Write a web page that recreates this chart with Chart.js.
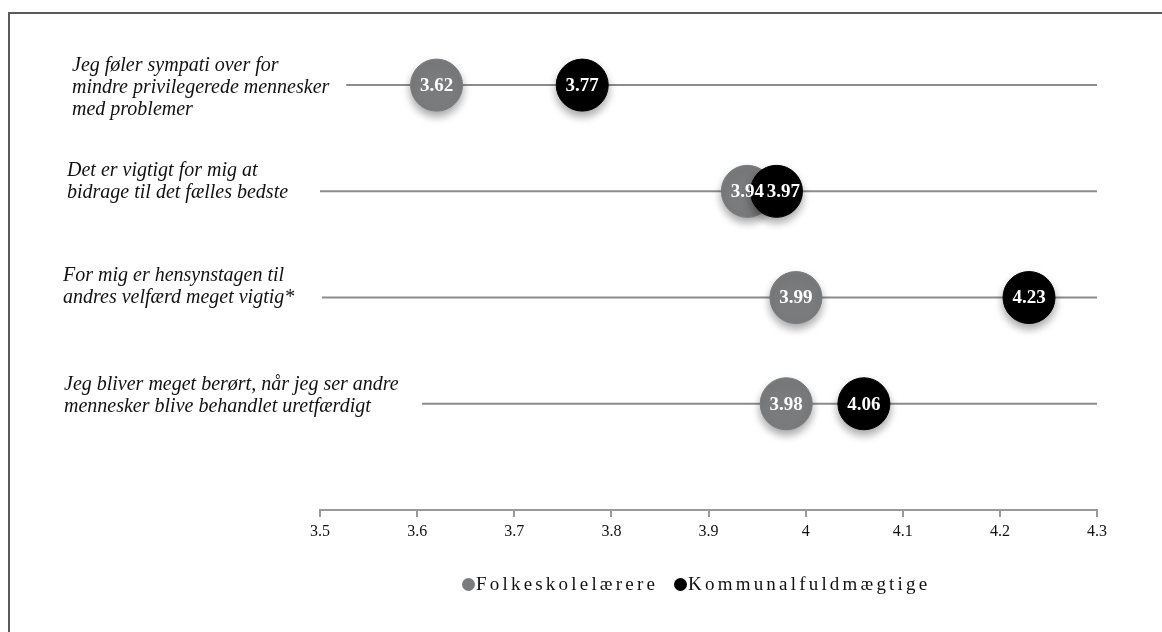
<!DOCTYPE html>
<html>
<head>
<meta charset="utf-8">
<script src="https://cdn.jsdelivr.net/npm/chart.js@4.4.1/dist/chart.umd.min.js"></script>
<style>
	html, body { margin: 0; padding: 0; background: #fff; }
	#wrap { position: relative; width: 1162px; height: 632px; overflow: hidden; }
	#frame { position: absolute; left: 8px; top: 12px; right: -10px; bottom: -10px;
		border-top: 2px solid #5a5a5a; border-left: 2px solid #5a5a5a; }
	#chart { position: absolute; left: 0; top: 0; }
	#legend { position: absolute; left: 462px; top: 573px; font-family: 'Liberation Serif', serif;
		font-size: 19px; letter-spacing: 3.2px; color: #111; white-space: nowrap; }
	#legend span.dot { display: inline-block; width: 13px; height: 13px; border-radius: 50%;
		vertical-align: -1px; margin-right: 1px; }
	#legend span.item { margin-right: 16px; }
</style>
</head>
<body>
<div id="wrap">
	<div id="frame"></div>
	<canvas id="chart" width="1162" height="632"></canvas>
	<div id="legend"></div>
</div>
<script>
document.addEventListener( 'DOMContentLoaded', function () {
	// Data.
	const statements = [
		[ 'Jeg føler sympati over for', 'mindre privilegerede mennesker', 'med problemer' ],
		[ 'Det er vigtigt for mig at', 'bidrage til det fælles bedste' ],
		[ 'For mig er hensynstagen til', 'andres velfærd meget vigtig*' ],
		[ 'Jeg bliver meget berørt, når jeg ser andre', 'mennesker blive behandlet uretfærdigt' ]
	];
	const seriesNames = [ 'Folkeskolelærere', 'Kommunalfuldmægtige' ];
	const folkeskole = [ 3.62, 3.94, 3.99, 3.98 ];
	const kommunal = [ 3.77, 3.97, 4.23, 4.06 ];
	const railStart = [ 3.527, 3.5, 3.502, 3.605 ];
	const railEnd = 4.3;
	const xTicks = [ 3.5, 3.6, 3.7, 3.8, 3.9, 4, 4.1, 4.2, 4.3 ];

	const colors = [ '#797b7d', '#000000' ];

	// Label placement (left x, block shift relative to the rail).
	const labelX = [ 72, 67, 63, 64 ];
	const labelShift = [ 3, -10, -11, -8 ];
	// small horizontal nudge for value labels that would collide
	const valueNudge = [ [ 0, 0, 0, 0 ], [ 0, 7, 0, 0 ] ];

	function points( values ) {
		return values.map( function ( v, i ) {
			return { x: v, y: i };
		} );
	}

	const datasets = [];
	statements.forEach( function ( s, i ) {
		datasets.push( {
			type: 'line',
			data: [ { x: railStart[ i ], y: i }, { x: railEnd, y: i } ],
			borderColor: '#8c8c8c',
			borderWidth: 2,
			pointRadius: 0,
			order: 5,
			rail: true
		} );
	} );
	[ folkeskole, kommunal ].forEach( function ( values, k ) {
		datasets.push( {
			label: seriesNames[ k ],
			data: points( values ),
			backgroundColor: colors[ k ],
			borderColor: colors[ k ],
			pointRadius: 26,
			pointHoverRadius: 26,
			order: 2 - k,
			bubble: true
		} );
	} );

	const shadowPlugin = {
		id: 'shadow',
		beforeDatasetDraw( chart, args ) {
			if ( !chart.data.datasets[ args.index ].bubble ) return;
			const ctx = chart.ctx;
			ctx.save();
			ctx.shadowColor = 'rgba(0,0,0,0.35)';
			ctx.shadowBlur = 8;
			ctx.shadowOffsetY = 5;
		},
		afterDatasetDraw( chart, args ) {
			if ( !chart.data.datasets[ args.index ].bubble ) return;
			chart.ctx.restore();
		}
	};

	const textPlugin = {
		id: 'texts',
		afterDatasetsDraw( chart ) {
			const ctx = chart.ctx,
				xs = chart.scales.x,
				ys = chart.scales.y;
			ctx.save();
			// values inside circles
			ctx.fillStyle = '#fff';
			ctx.font = 'bold 19px "Liberation Serif", serif';
			ctx.textAlign = 'center';
			ctx.textBaseline = 'middle';
			[ folkeskole, kommunal ].forEach( function ( values, k ) {
				values.forEach( function ( v, i ) {
					ctx.fillText( v.toFixed( 2 ), xs.getPixelForValue( v ) + valueNudge[ k ][ i ], ys.getPixelForValue( i ) + 1 );
				} );
			} );
			// statements on the left
			ctx.fillStyle = '#111';
			ctx.font = 'italic 20px "Liberation Serif", serif';
			ctx.textAlign = 'left';
			const lh = 22;
			statements.forEach( function ( lines, i ) {
				const cy = ys.getPixelForValue( i ) + labelShift[ i ];
				const top = cy - ( lines.length - 1 ) * lh / 2;
				lines.forEach( function ( line, j ) {
					ctx.fillText( line, labelX[ i ], top + j * lh );
				} );
			} );
			ctx.restore();
		}
	};

	new Chart( 'chart', {
		type: 'scatter',
		data: { datasets: datasets },
		plugins: [ shadowPlugin, textPlugin ],
		options: {
			responsive: false,
			animation: false,
			events: [],
			layout: { padding: { left: 320, right: 65, top: 32, bottom: 82 } },
			plugins: {
				legend: { display: false },
				tooltip: { enabled: false }
			},
			scales: {
				x: {
					type: 'linear',
					min: 3.5,
					max: 4.3,
					afterBuildTicks( scale ) {
						scale.ticks = xTicks.map( function ( v ) {
							return { value: v };
						} );
					},
					afterFit( scale ) {
						scale.height = 40;
					},
					ticks: {
						color: '#111',
						padding: 5,
						font: { family: '"Liberation Serif", serif', size: 16 },
						callback: function ( v ) {
							return String( Math.round( v * 10 ) / 10 );
						}
					},
					grid: {
						drawOnChartArea: false,
						drawTicks: true,
						tickLength: 7,
						color: '#9a9a9a',
						lineWidth: 2
					},
					border: { display: true, color: '#9a9a9a', width: 2 }
				},
				y: {
					type: 'linear',
					display: false,
					reverse: true,
					min: -0.5,
					max: 4
				}
			}
		}
	} );

	// Legend below the chart
	const legend = document.getElementById( 'legend' );
	seriesNames.forEach( function ( name, k ) {
		const item = document.createElement( 'span' );
		item.className = 'item';
		const dot = document.createElement( 'span' );
		dot.className = 'dot';
		dot.style.background = colors[ k ];
		item.appendChild( dot );
		item.appendChild( document.createTextNode( name ) );
		legend.appendChild( item );
	} );
} );
</script>
</body>
</html>
